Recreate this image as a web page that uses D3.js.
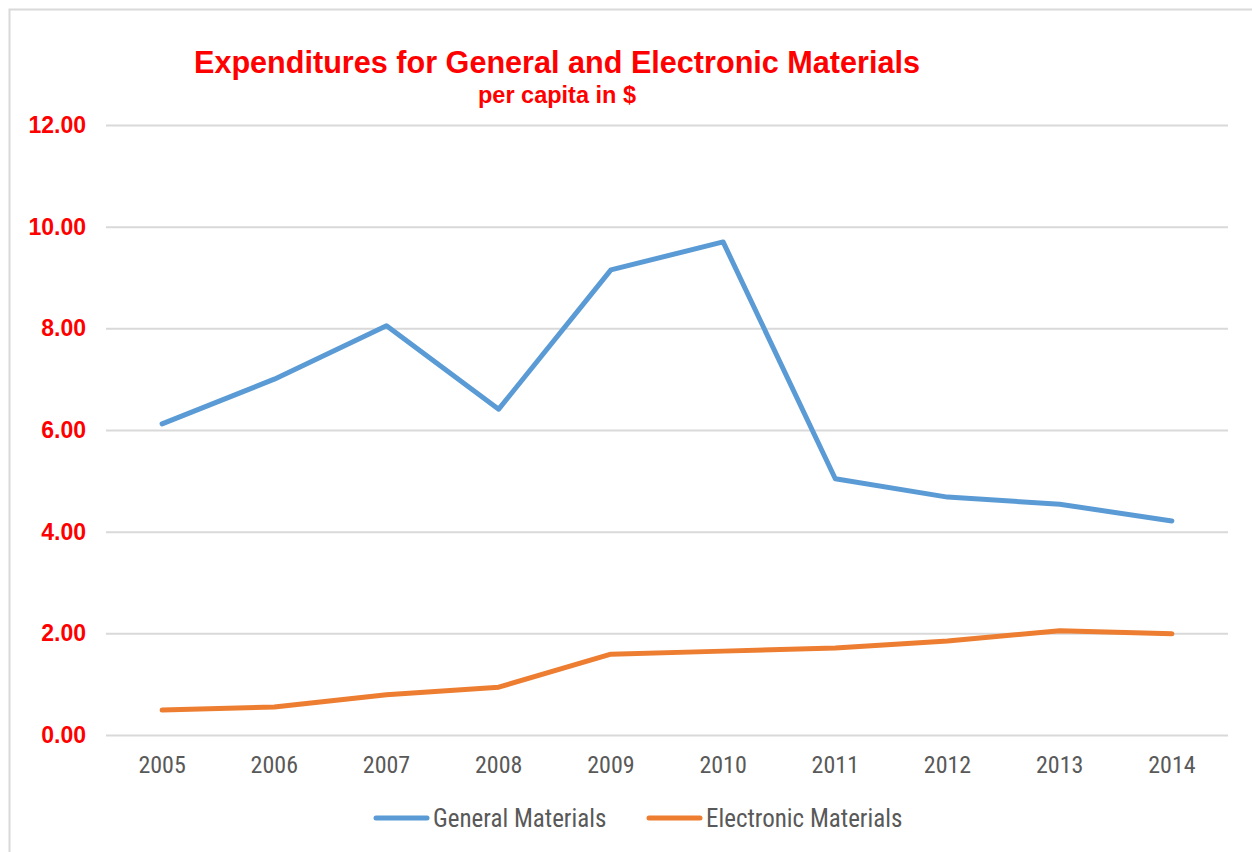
<!DOCTYPE html>
<html><head><meta charset="utf-8">
<script src="https://cdn.jsdelivr.net/npm/d3@7"></script>
<style>body{margin:0;background:#fff}svg{display:block}</style>
</head><body><svg id="c" width="1252" height="852"></svg>
<script>
const years = ["2005","2006","2007","2008","2009","2010","2011","2012","2013","2014"];
const generalMaterials = [6.12, 7.00, 8.05, 6.41, 9.15, 9.70, 5.04, 4.68, 4.54, 4.21];
const electronicMaterials = [0.49, 0.55, 0.79, 0.94, 1.59, 1.65, 1.71, 1.85, 2.05, 1.99];
const yTicks = [0, 2, 4, 6, 8, 10, 12];
const seriesNames = ["General Materials", "Electronic Materials"];
const colors = ["#5B9BD5", "#ED7D31"];

const svg = d3.select("#c");
svg.append("rect").attr("x",9.5).attr("y",9.5).attr("width",1250).attr("height",850)
  .attr("fill","#fff").attr("stroke","#d9d9d9").attr("stroke-width",2);

const x = d3.scaleBand().domain(years).range([106, 1228]);
const y = d3.scaleLinear().domain([0, 12]).range([735, 125]);

const narrow = "'Liberation Sans Narrow','Arial Narrow','Roboto Condensed','Liberation Sans',sans-serif";

const yAxis = svg.append("g").attr("transform","translate(106,0)")
  .call(d3.axisLeft(y).tickValues(yTicks).tickFormat(d3.format(".2f")).tickSize(-1122).tickPadding(20));
yAxis.select(".domain").remove();
yAxis.selectAll(".tick line").attr("stroke","#d9d9d9").attr("stroke-width",2);
yAxis.selectAll(".tick text").attr("fill","#ff0000").attr("font-family","'Liberation Sans',Arial,sans-serif")
  .attr("font-weight","bold").attr("font-size",23);

const xAxis = svg.append("g").attr("transform","translate(0,735)")
  .call(d3.axisBottom(x).tickSize(0).tickPadding(21));
xAxis.select(".domain").remove();
xAxis.selectAll(".tick text").attr("fill","#595959").attr("font-family",narrow).attr("font-size",24);

const line = d3.line().x((d,i)=>x(years[i])+x.bandwidth()/2).y(d=>y(d));
[generalMaterials, electronicMaterials].forEach((s,k)=>{
  svg.append("path").datum(s).attr("d",line).attr("fill","none").attr("stroke",colors[k])
    .attr("stroke-width",5).attr("stroke-linecap","round").attr("stroke-linejoin","round");
});

svg.append("text").attr("x",557).attr("y",73).attr("text-anchor","middle").attr("fill","#ff0000")
  .attr("font-family","'Liberation Sans',Arial,sans-serif").attr("font-weight","bold").attr("font-size",30.6)
  .text("Expenditures for General and Electronic Materials");
svg.append("text").attr("x",557).attr("y",103).attr("text-anchor","middle").attr("fill","#ff0000")
  .attr("font-family","'Liberation Sans',Arial,sans-serif").attr("font-weight","bold").attr("font-size",23.5)
  .text("per capita in $");

const legX = [376, 649];
seriesNames.forEach((n,k)=>{
  const g = svg.append("g").attr("transform",`translate(${legX[k]},818)`);
  g.append("line").attr("x1",0).attr("x2",51).attr("stroke",colors[k]).attr("stroke-width",5).attr("stroke-linecap","round");
  g.append("text").attr("x",57).attr("y",9).attr("fill","#595959").attr("font-family",narrow).attr("font-size",25).text(n);
});
</script></body></html>
